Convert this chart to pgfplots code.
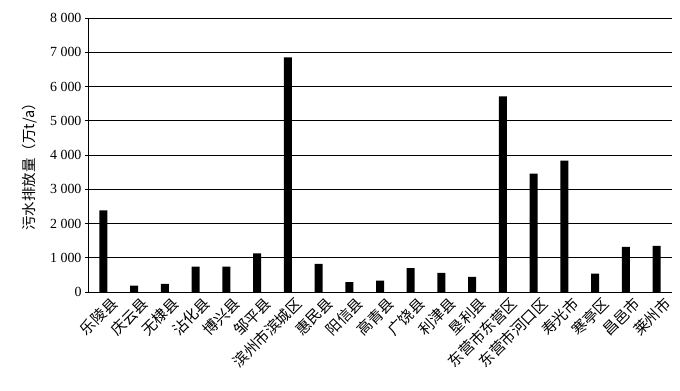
\documentclass[border=0pt]{standalone}
\usepackage{fontspec}
\setmainfont{Liberation Serif}
\newfontfamily\cjk{Noto Sans CJK SC}
\usepackage{pgfplots}
\pgfplotsset{compat=1.18}
\begin{document}
\begin{tikzpicture}
\begin{axis}[
  name=ax,
  scale only axis,
  width=584bp, height=274bp,
  xmin=-0.5, xmax=18.5,
  ymin=0, ymax=8000,
  ytick={0,1000,...,8000},
  xtick=data,
  xticklabels={乐陵县,庆云县,无棣县,沾化县,博兴县,邹平县,滨州市滨城区,惠民县,阳信县,高青县,广饶县,利津县,垦利县,东营市东营区,东营市河口区,寿光市,寒亭区,昌邑市,莱州市},
  xticklabel style={font=\cjk\fontsize{15}{16}\selectfont, rotate=45, anchor=north east, inner sep=1pt, xshift=5bp, yshift=-4bp},
  yticklabel style={font=\fontsize{14}{15}\selectfont},
  /pgf/number format/assume math mode=true,
  /pgf/number format/1000 sep={\ },
  scaled y ticks=false,
  axis x line*=bottom,
  axis y line*=left,
  x axis line style={draw=none},
  y axis line style={line width=0.8bp, -},
  major tick length=3bp,
  xtick style={draw=none},
  ytick style={line width=0.8bp, black},
  tick align=outside,
  ymajorgrids,
  grid style={black, line width=0.8bp},
  ylabel={\cjk 污水排放量（万t/a）},
  ylabel style={font=\fontsize{14.5}{15}\selectfont, at={(rel axis cs:-0.0993,0.47)}, anchor=center, rotate=0},
  ybar, bar width=8bp,
]
\addplot[fill=black, draw=none] coordinates {
(0,2380) (1,185) (2,240) (3,740) (4,740) (5,1130) (6,6850) (7,820) (8,285) (9,330) (10,700) (11,555) (12,440) (13,5715) (14,3455) (15,3835) (16,535) (17,1315) (18,1345)
};
\end{axis}
\path ([shift={(-88bp,-99bp)}]ax.south west) rectangle ([shift={(8bp,18bp)}]ax.north east);
\end{tikzpicture}
\end{document}
